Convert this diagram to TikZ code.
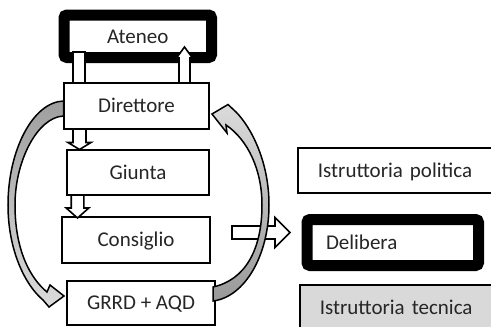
\documentclass[tikz,border=0pt]{standalone}
\usepackage{fontspec}
\setmainfont{Carlito}
\usetikzlibrary{calc}
\tikzset{
  lbl/.style={font=\fontsize{21}{25}\selectfont, text=black!85, text height=17pt, text depth=3.5pt},
  box/.style={lbl, draw=black, line width=1.8pt, fill=white, inner sep=0pt},
  thickbox/.style={lbl, draw=black, line width=11pt, fill=white, inner sep=0pt, rounded corners=3pt},
  blk/.style={draw=black, line width=1.6pt, fill=white, line join=miter},
  curv/.style={draw=black, line width=1.5pt, line join=miter},
}
\newcommand\blockarrow[5]{%
  \coordinate (hb) at ($(#2)!#5!(#1)$);
  \filldraw[blk] ($(#1)!#3!90:(#2)$) -- ($(hb)!#3!-90:(#1)$) -- ($(hb)!#4!-90:(#1)$) -- (#2)
    -- ($(hb)!#4!90:(#1)$) -- ($(hb)!#3!90:(#1)$) -- ($(#1)!#3!-90:(#2)$) -- cycle;
}
\begin{document}
\begin{tikzpicture}[x=1pt, y=-1pt]
\useasboundingbox (0,0) rectangle (491,327);
\clip (0,0) rectangle (491,327);

% Ateneo
\node[thickbox, minimum width=147.5pt, minimum height=42.5pt] (ate) at (137.75,36.25) {Ateneo};

% arrows between Ateneo and Direttore
\coordinate (adS) at (79,52);
\coordinate (adT) at (79,100);
\blockarrow{adS}{adT}{6pt}{9pt}{8pt}
\coordinate (daS) at (184.5,84);
\coordinate (daT) at (184.5,47);
\blockarrow{daS}{daT}{5.5pt}{8pt}{11pt}

% left column boxes
\node[box, minimum width=145pt, minimum height=46pt] (dir) at (136.5,106) {Direttore};
\node[box, minimum width=142pt, minimum height=45pt] (giu) at (138,172.5) {Giunta};
\node[box, minimum width=148pt, minimum height=46pt] (con) at (136,240) {Consiglio};
\node[box, minimum width=148pt, minimum height=44pt] (grr) at (141,303) {GRRD + AQD};

% block arrows down the column
\coordinate (dgS) at (79.5,129);
\coordinate (dgT) at (79.5,149.5);
\blockarrow{dgS}{dgT}{6.5pt}{11.5pt}{7pt}
\coordinate (gcS) at (77.5,195);
\coordinate (gcT) at (77.5,218);
\blockarrow{gcS}{gcT}{6.3pt}{11.3pt}{10pt}

% Consiglio -> Delibera
\coordinate (cdS) at (232,232.5);
\coordinate (cdT) at (290,232.5);
\blockarrow{cdS}{cdT}{6.5pt}{15pt}{15pt}

% left curved arrow Direttore -> GRRD
\path[curv, top color=black!38, bottom color=black!14]
  (63.5,101) .. controls (33,102) and (8,150) .. (8,205)
  .. controls (8,250) and (25,285) .. (43,300)
  -- (49,307) -- (64,296) -- (50,285) -- (47,292)
  .. controls (30,278) and (15,250) .. (15,205)
  .. controls (15,160) and (38,117) .. (63.5,116) -- cycle;

% right curved arrow GRRD -> Direttore
\path[curv, top color=black!14, bottom color=black!40]
  (213,301) .. controls (245,297) and (269,255) .. (269,205)
  .. controls (269,160) and (250,126) .. (236,112)
  -- (228,104.5) -- (212,114) -- (227,133) -- (226,125)
  .. controls (248,140) and (262,170) .. (262,205)
  .. controls (262,250) and (245,280) .. (213,287) -- cycle;

% right column
\node[box, anchor=west, minimum height=45pt, inner xsep=20pt, text width=200pt, align=left] (pol) at (297,170.5) {\mbox{Istruttoria politica}};
\node[thickbox, anchor=west, minimum height=46pt, inner xsep=19pt, text width=133.5pt, align=left] (del) at (301.5,242.5) {\mbox{Delibera}};
\node[box, fill=black!15, line width=1.5pt, anchor=west, minimum height=45pt, inner xsep=20pt, text width=200pt, align=left] (tec) at (299,307.5) {\mbox{Istruttoria tecnica}};
\end{tikzpicture}
\end{document}
